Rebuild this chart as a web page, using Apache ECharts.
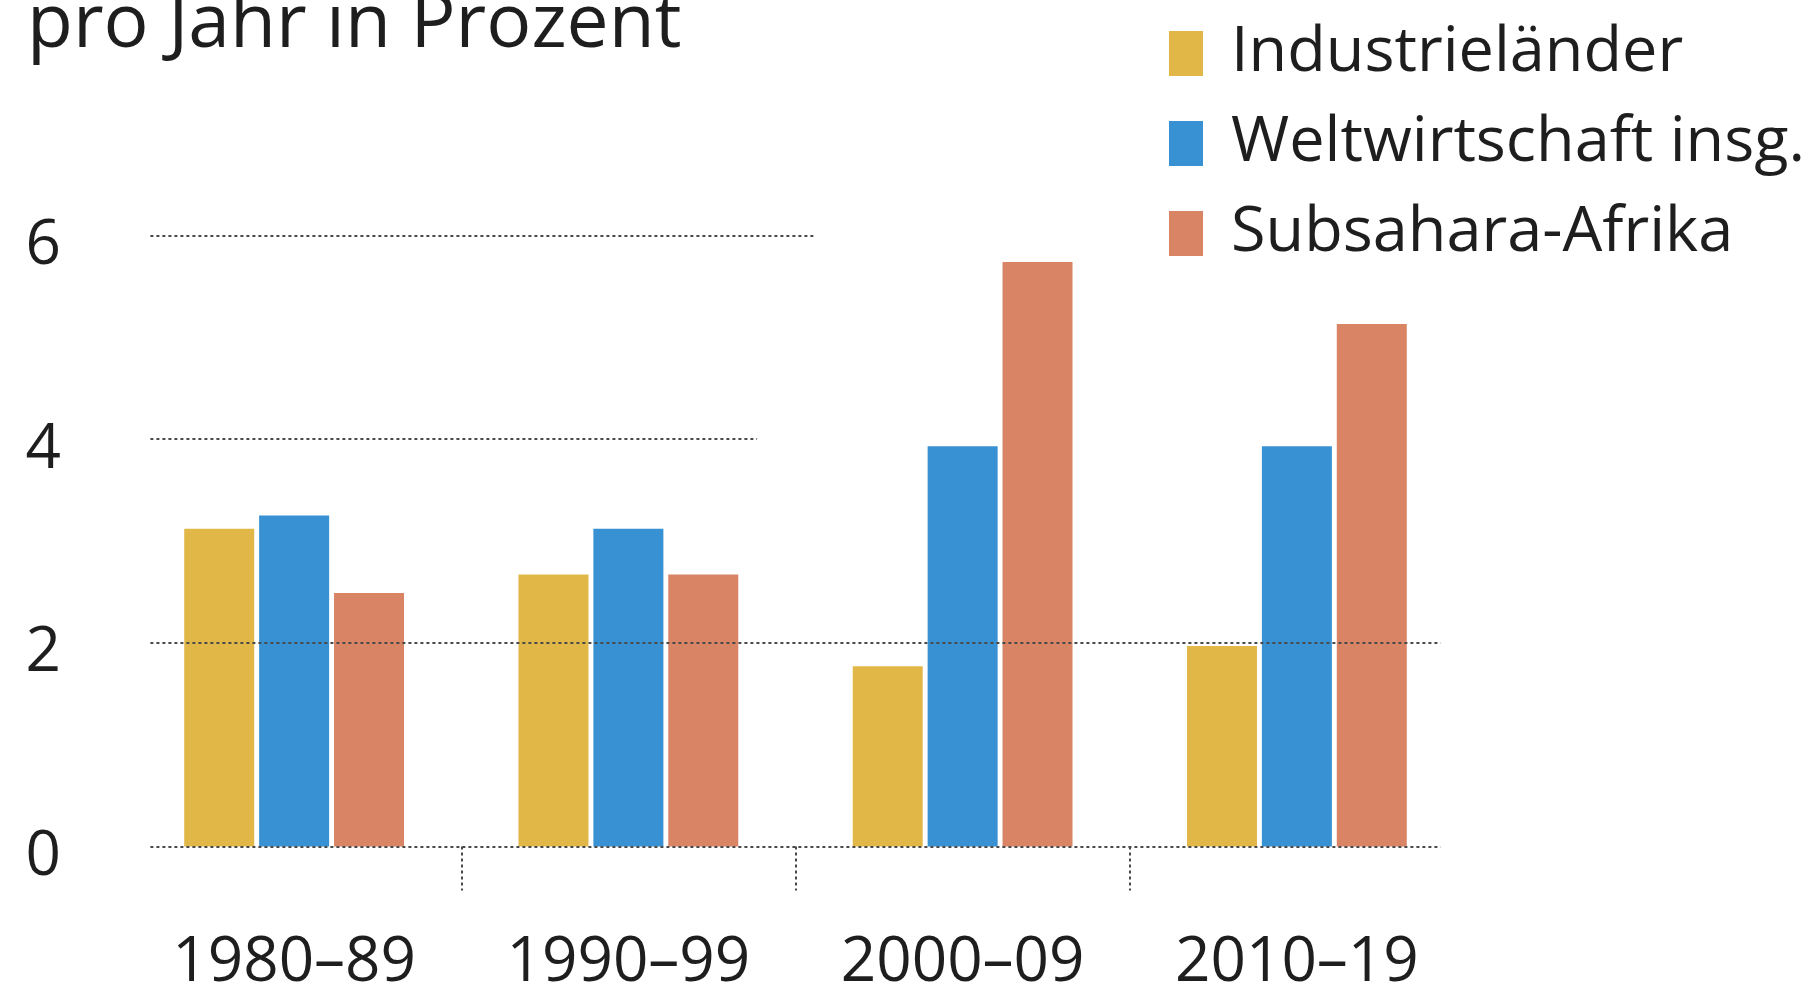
<!DOCTYPE html>
<html>
<head>
<meta charset="utf-8">
<script src="https://cdn.jsdelivr.net/npm/echarts@6/dist/echarts.min.js"></script>
<style>
html,body{margin:0;padding:0;background:#fff;}
#chart{width:1813px;height:992px;}
</style>
</head>
<body>
<div id="chart"></div>
<script>
// ---- data ----
const categories = ['1980–89', '1990–99', '2000–09', '2010–19'];
const seriesNames = ['Industrieländer', 'Weltwirtschaft insg.', 'Subsahara-Afrika'];
const industrielaender = [3.12, 2.67, 1.77, 1.97];
const weltwirtschaft = [3.25, 3.12, 3.93, 3.93];
const subsahara = [2.49, 2.67, 5.74, 5.13];
const yTicks = [0, 2, 4, 6];
const titleText = 'pro Jahr in Prozent';

// ---- styling ----
const FONT = 'Open Sans';
const TEXT = '#1e1e1e';
const colors = ['#E1B748', '#3891D2', '#DA8466'];
const gridLineStyle = { color: '#4a4a4a', width: 2, type: [3, 3] };

// horizontal reference lines, in axis units (x along 0..4 category span)
const gridSegments = [
  { y: 0, x0: 0.07, x1: 3.93 },
  { y: 2, x0: 0.07, x1: 3.93 },
  { y: 4, x0: 0.07, x1: 1.885 },
  { y: 6, x0: 0.07, x1: 2.058 }
];

const chart = echarts.init(document.getElementById('chart'));

const barSeries = [industrielaender, weltwirtschaft, subsahara].map((d, i) => ({
  name: seriesNames[i],
  type: 'bar',
  data: d,
  xAxisIndex: 0,
  yAxisIndex: 0,
  barWidth: 70,
  barGap: '7%',
  itemStyle: { color: colors[i] },
  z: 2
}));

chart.setOption({
  animation: false,
  backgroundColor: '#fff',
  title: {
    text: titleText,
    left: 22,
    top: -17,
    textStyle: { fontFamily: FONT, fontSize: 75, fontWeight: 'normal', color: TEXT }
  },
  legend: {
    orient: 'vertical',
    left: 1164,
    top: 17,
    itemWidth: 34,
    itemHeight: 45,
    itemGap: 27,
    icon: 'rect',
    data: seriesNames,
    textStyle: { fontFamily: FONT, fontSize: 63, color: TEXT, padding: [0, 0, 0, 23] }
  },
  grid: {
    left: 127, right: 349, top: 235.5, bottom: 145.5,
    containLabel: false,
    outerBoundsMode: 'none'
  },
  xAxis: [
    {
      type: 'category',
      data: categories,
      boundaryGap: true,
      axisLine: { show: false },
      axisTick: { show: false },
      axisLabel: { fontFamily: FONT, fontSize: 62, color: TEXT, margin: 86, interval: 0 }
    },
    {
      type: 'value',
      min: 0,
      max: 4,
      position: 'bottom',
      axisLine: { show: false },
      splitLine: { show: false },
      axisLabel: { show: false },
      axisTick: { show: true, customValues: [1, 2, 3], length: 44, lineStyle: { color: '#4a4a4a', width: 2, type: [3, 3] } }
    }
  ],
  yAxis: {
    type: 'value',
    min: 0,
    max: 6,
    interval: 2,
    axisLine: { show: false },
    axisTick: { show: false },
    splitLine: { show: false },
    axisLabel: {
      fontFamily: FONT, fontSize: 62, color: TEXT, margin: 66,
      customValues: yTicks,
      verticalAlign: 'top',
      lineHeight: 22
    }
  },
  series: barSeries.concat([{
    type: 'line',
    name: 'grid',
    xAxisIndex: 1,
    yAxisIndex: 0,
    data: [],
    silent: true,
    z: 3,
    markLine: {
      silent: true,
      symbol: ['none', 'none'],
      label: { show: false },
      lineStyle: gridLineStyle,
      data: gridSegments.map(s => [{ coord: [s.x0, s.y] }, { coord: [s.x1, s.y] }])
    }
  }])
});
</script>
</body>
</html>
